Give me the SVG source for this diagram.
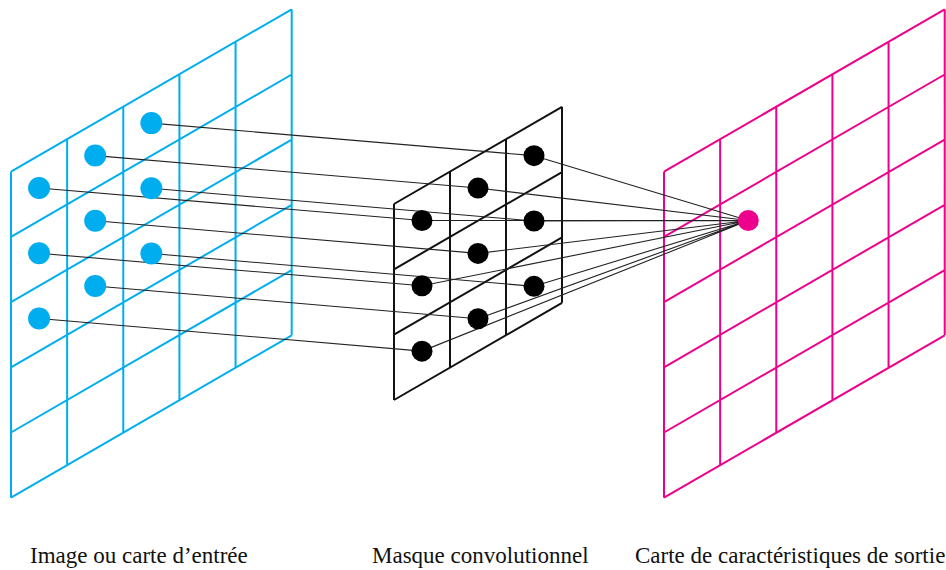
<svg xmlns="http://www.w3.org/2000/svg" width="946" height="570" viewBox="0 0 946 570">
<style>
.g{fill:none;stroke-width:2;stroke-linejoin:miter}
.blue{stroke:#00AEEF}
.pink{stroke:#EC008C}
.blk{stroke:#111}
.bd{fill:#00AEEF}
.kd{fill:#000}
.pd{fill:#EC008C}
.c{fill:none;stroke:#222;stroke-width:1.1}
.t{font-family:"Liberation Serif","Times New Roman",serif;font-size:23px;fill:#111}
</style>
<g id="input-grid">
<path class="g blue" d="M11,171.7V497.7M67.14,139.22V465.22M123.28,106.74V432.74M179.42,74.26V400.26M235.56,41.78V367.78M291.7,9.3V335.3M11,171.7L291.7,9.3M11,236.9L291.7,74.5M11,302.1L291.7,139.7M11,367.3L291.7,204.9M11,432.5L291.7,270.1M11,497.7L291.7,335.3"/>
</g>
<g id="output-grid">
<path class="g pink" d="M664,171.7V497.7M720.14,139.22V465.22M776.28,106.74V432.74M832.42,74.26V400.26M888.56,41.78V367.78M944.7,9.3V335.3M664,171.7L944.7,9.3M664,236.9L944.7,74.5M664,302.1L944.7,139.7M664,367.3L944.7,204.9M664,432.5L944.7,270.1M664,497.7L944.7,335.3"/>
</g>
<g id="mask">
<path class="g blk" d="M394,204V400M450,171.6V367.6M506,139.2V335.2M562,106.8V302.8M394,204L562,106.8M394,269.33L562,172.13M394,334.67L562,237.47M394,400L562,302.8"/>
</g>
<g id="connectors">
<path class="c" d="M39.07,188.06L422,220.47M39.07,253.26L422,285.8M39.07,318.46L422,351.13M95.21,155.58L478,188.07M95.21,220.78L478,253.4M95.21,285.98L478,318.73M151.35,123.1L534,155.67M151.35,188.3L534,221M151.35,253.5L534,286.33"/>
<path class="c" d="M422,220.47L748.3,220.5M422,285.8L748.3,220.5M422,351.13L748.3,220.5M478,188.07L748.3,220.5M478,253.4L748.3,220.5M478,318.73L748.3,220.5M534,155.67L748.3,220.5M534,221L748.3,220.5M534,286.33L748.3,220.5"/>
</g>
<g id="input-dots">
<circle class="bd" cx="39.07" cy="188.06" r="11"/>
<circle class="bd" cx="39.07" cy="253.26" r="11"/>
<circle class="bd" cx="39.07" cy="318.46" r="11"/>
<circle class="bd" cx="95.21" cy="155.58" r="11"/>
<circle class="bd" cx="95.21" cy="220.78" r="11"/>
<circle class="bd" cx="95.21" cy="285.98" r="11"/>
<circle class="bd" cx="151.35" cy="123.1" r="11"/>
<circle class="bd" cx="151.35" cy="188.3" r="11"/>
<circle class="bd" cx="151.35" cy="253.5" r="11"/>
</g>
<g id="mask-dots">
<circle class="kd" cx="422" cy="220.47" r="10.5"/>
<circle class="kd" cx="422" cy="285.8" r="10.5"/>
<circle class="kd" cx="422" cy="351.13" r="10.5"/>
<circle class="kd" cx="478" cy="188.07" r="10.5"/>
<circle class="kd" cx="478" cy="253.4" r="10.5"/>
<circle class="kd" cx="478" cy="318.73" r="10.5"/>
<circle class="kd" cx="534" cy="155.67" r="10.5"/>
<circle class="kd" cx="534" cy="221" r="10.5"/>
<circle class="kd" cx="534" cy="286.33" r="10.5"/>
</g>
<g id="output-dot">
<circle class="pd" cx="748.3" cy="220.5" r="10.5"/>
</g>
<g id="labels">
<text class="t" x="30" y="563">Image ou carte d’entrée</text>
<text class="t" x="372" y="563">Masque convolutionnel</text>
<text class="t" x="635" y="563">Carte de caractéristiques de sortie</text>
</g>
</svg>
